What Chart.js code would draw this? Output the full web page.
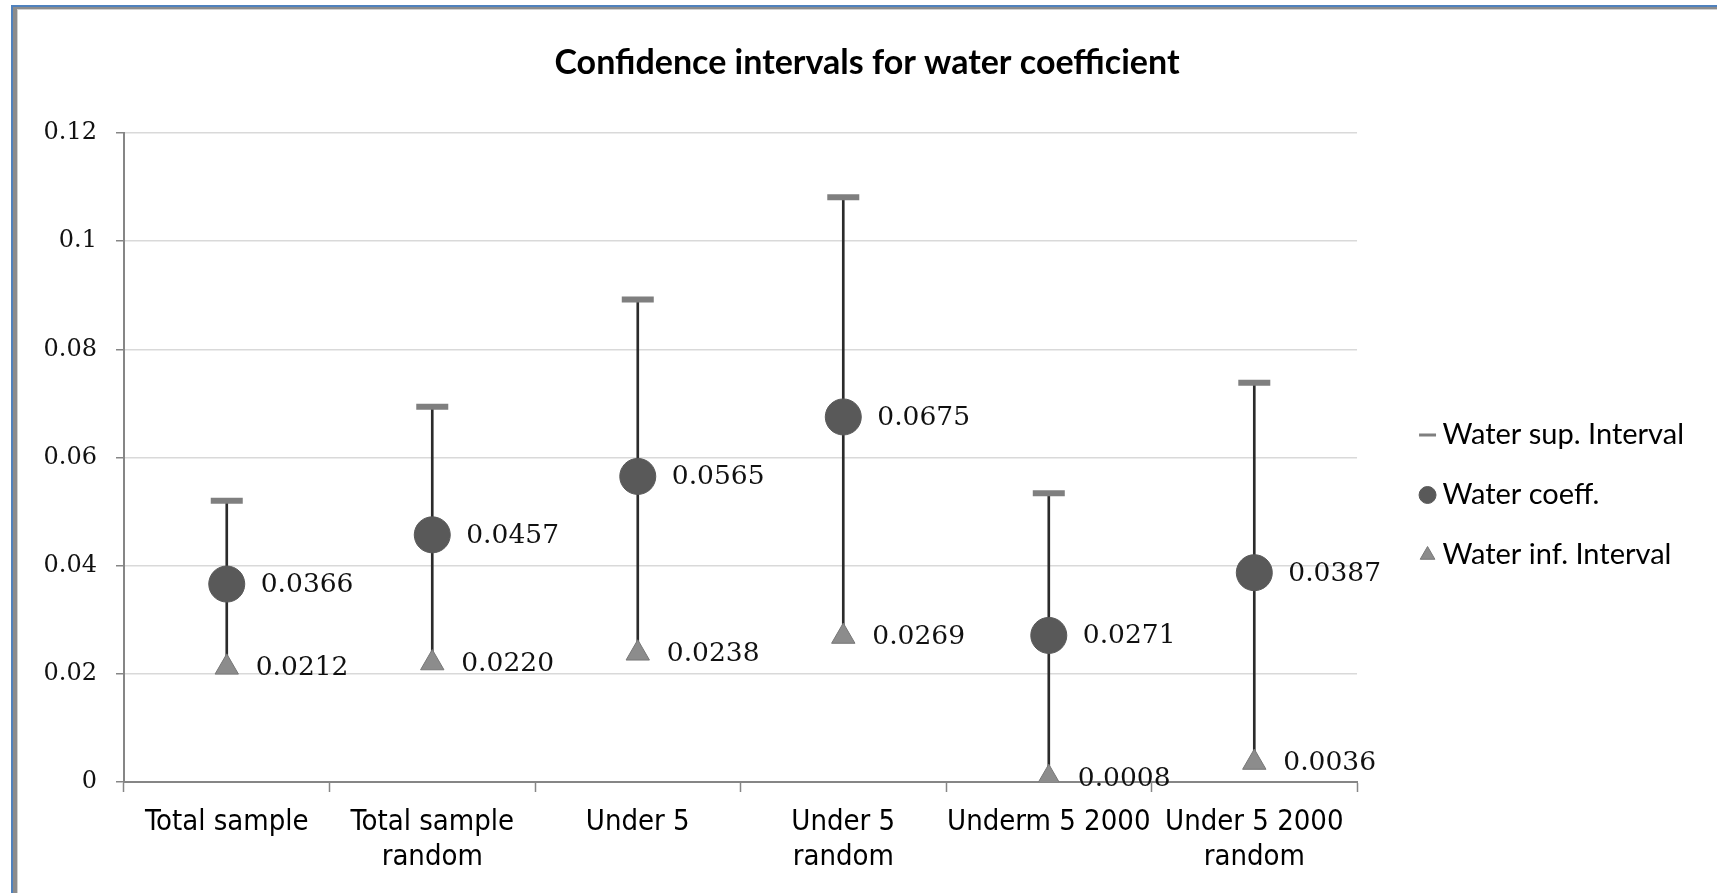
<!DOCTYPE html>
<html>
<head>
<meta charset="utf-8">
<script src="https://cdn.jsdelivr.net/npm/chart.js@4/dist/chart.umd.min.js"></script>
<style>
html,body{margin:0;padding:0;background:#fff;overflow:hidden;}
#wrap{position:relative;width:1717px;height:893px;overflow:hidden;}
#c{position:absolute;left:0;top:0;}
.fr{position:absolute;width:1800px;height:1000px;pointer-events:none;box-sizing:border-box;}
.f1{left:11px;top:5px;border-left:2px solid #4f81bd;border-top:2px solid #4f81bd;}
.f2{left:13px;top:7px;border-left:4px solid #8c8c8c;border-top:2px solid #8c8c8c;}
.f3{left:17px;top:9px;border-left:1px solid #d0d0d0;border-top:1px solid #d0d0d0;}
</style>
</head>
<body>
<div id="wrap">
<canvas id="c" width="1717" height="893"></canvas>
<div class="fr f1"></div><div class="fr f2"></div><div class="fr f3"></div>
</div>
<script>
const categories = [['Total sample'], ['Total sample', 'random'], ['Under 5'], ['Under 5', 'random'], ['Underm 5 2000'], ['Under 5 2000', 'random']];
const supInterval = [0.0520, 0.0694, 0.0892, 0.1081, 0.0534, 0.0738];
const waterCoeff = [0.0366, 0.0457, 0.0565, 0.0675, 0.0271, 0.0387];
const infInterval = [0.0212, 0.0220, 0.0238, 0.0269, 0.0008, 0.0036];
const yTickLabels = ['0', '0.02', '0.04', '0.06', '0.08', '0.1', '0.12'];
const seriesNames = ['Water sup. Interval', 'Water coeff.', 'Water inf. Interval'];
const chartTitle = 'Confidence intervals for water coefficient';

const rangeData = supInterval.map((s, i) => [infInterval[i], s]);

const pointLabels = {
  id: 'pointLabels',
  afterDatasetsDraw(chart) {
    const ctx = chart.ctx;
    chart.data.datasets.forEach((ds, di) => {
      if (!ds.showValues) return;
      const meta = chart.getDatasetMeta(di);
      ctx.save();
      ctx.font = '26.5px "DejaVu Serif"';
      ctx.fillStyle = '#111';
      ctx.textBaseline = 'middle';
      ctx.textAlign = 'left';
      meta.data.forEach((pt, i) => {
        ctx.fillText(ds.data[i].toFixed(4), pt.x + ds.labelOffset, pt.y + 1);
      });
      ctx.restore();
    });
  }
};

new Chart(document.getElementById('c'), {
  type: 'line',
  data: {
    labels: categories,
    datasets: [
      {
        label: seriesNames[0], data: supInterval, showLine: false, order: 1,
        pointStyle: 'line', pointRadius: 16, pointHoverRadius: 16,
        borderColor: '#7f7f7f', backgroundColor: '#7f7f7f', borderWidth: 6, pointBorderWidth: 6
      },
      {
        label: seriesNames[1], data: waterCoeff, showLine: false, order: 2,
        pointStyle: 'circle', pointRadius: 18, pointHoverRadius: 18,
        borderColor: '#595959', backgroundColor: '#595959', pointBorderWidth: 1,
        showValues: true, labelOffset: 34
      },
      {
        label: seriesNames[2], data: infInterval, showLine: false, order: 3,
        pointStyle: 'triangle', pointRadius: 13.5, pointHoverRadius: 13.5,
        borderColor: '#777777', backgroundColor: '#8c8c8c', pointBorderWidth: 1,
        showValues: true, labelOffset: 29
      },
      {
        type: 'bar', label: 'range', data: rangeData, order: 4,
        barThickness: 2, backgroundColor: '#2b2b2b', borderWidth: 0
      }
    ]
  },
  options: {
    responsive: false,
    animation: false,
    devicePixelRatio: 1,
    layout: { padding: { left: 40, right: 23, top: 0, bottom: 0 } },
    plugins: {
      title: {
        display: true, text: chartTitle, color: '#000',
        font: { family: 'Lato', weight: 'bold', size: 34, lineHeight: 1.2 },
        padding: { top: 42.6, bottom: 49.6 }
      },
      legend: {
        position: 'right', align: 'center', maxWidth: 600,
        title: { display: true, text: '', font: { size: 1, lineHeight: 1 }, padding: 48 },
        labels: {
          usePointStyle: true, boxWidth: 1, boxHeight: 12, padding: 31,
          color: '#000', font: { family: 'Lato', size: 29 },
          filter: (item) => item.text !== 'range',
          generateLabels(chart) {
            const items = Chart.defaults.plugins.legend.labels.generateLabels(chart);
            items.forEach(it => {
              if (it.pointStyle === 'line') { it.lineWidth = 3; it.strokeStyle = '#7f7f7f'; }
              else { it.lineWidth = 1; }
            });
            return items;
          }
        }
      },
      tooltip: { enabled: false }
    },
    scales: {
      x: {
        type: 'category', offset: true,
        grid: { offset: true, drawOnChartArea: false, drawTicks: true, tickLength: 10, tickColor: '#868686', tickWidth: 1.5 },
        border: { color: '#868686', width: 2 },
        ticks: {
          color: '#000', padding: 12, maxRotation: 0, autoSkip: false,
          font: { family: '"DejaVu Sans Condensed", "DejaVu Sans"', size: 29, lineHeight: 1.24 }
        },
        afterFit: (s) => { s.height = 111; }
      },
      y: {
        min: 0, max: 0.12,
        grid: { color: '#d9d9d9', lineWidth: 1.5, tickLength: 8, tickColor: '#868686', tickWidth: 1.5 },
        border: { color: '#868686', width: 2 },
        ticks: {
          stepSize: 0.02, color: '#111', padding: 19,
          font: { family: '"DejaVu Serif"', size: 24 },
          callback: (v, i) => yTickLabels[i]
        },
        afterFit: (s) => { s.width = 84; }
      },
      ySpace: {
        type: 'linear', position: 'right', display: true,
        grid: { drawOnChartArea: false, drawTicks: false },
        border: { display: false },
        ticks: { display: false },
        afterFit: (s) => { s.width = 39; }
      }
    }
  },
  plugins: [pointLabels]
});
</script>
</body>
</html>
